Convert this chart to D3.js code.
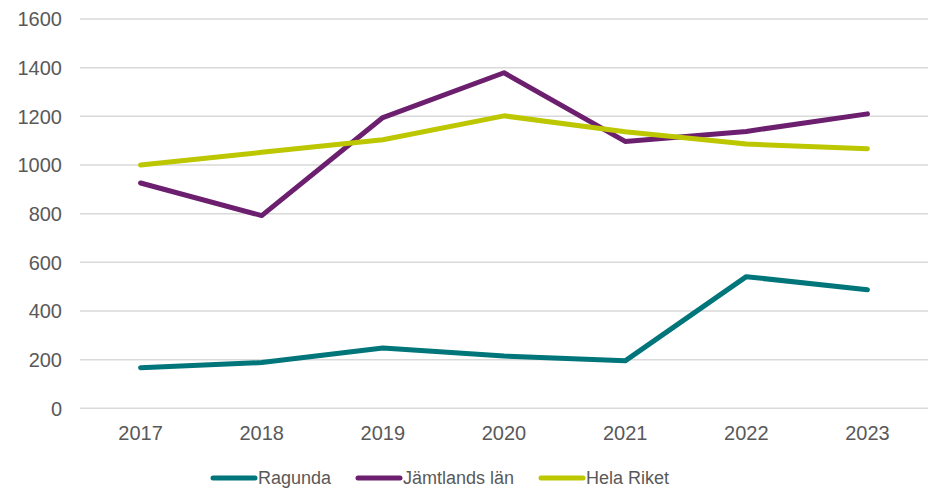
<!DOCTYPE html>
<html>
<head>
<meta charset="utf-8">
<script src="https://cdn.jsdelivr.net/npm/d3@7"></script>
<style>
  body { margin: 0; background: #fff; }
  text { font-family: "Liberation Sans", Arial, sans-serif; fill: #595959; }
</style>
</head>
<body>
<div id="chart"></div>
<script>
// data
var years = ["2017", "2018", "2019", "2020", "2021", "2022", "2023"];
var ragunda = [167, 188, 248, 215, 195, 541, 487];
var jamtland = [926, 792, 1195, 1379, 1097, 1138, 1210];
var helaRiket = [1000, 1052, 1104, 1202, 1137, 1086, 1067];
var yTicks = [0, 200, 400, 600, 800, 1000, 1200, 1400, 1600];

var series = [
    { name: "Ragunda", values: ragunda, color: "#00757a" },
    { name: "Jämtlands län", values: jamtland, color: "#6c1f6f" },
    { name: "Hela Riket", values: helaRiket, color: "#bcc700" }
];

var width = 932, height = 492;
var margin = { top: 19, right: 4, bottom: 84, left: 80 };

var svg = d3.select("#chart").append("svg")
    .attr("width", width)
    .attr("height", height);

var x = d3.scalePoint()
    .domain(years)
    .range([margin.left, width - margin.right])
    .padding(0.5);

var y = d3.scaleLinear()
    .domain([0, 1600])
    .range([height - margin.bottom + 0.3, margin.top]);

// gridlines
svg.append("g")
    .selectAll("line")
    .data(yTicks)
    .enter().append("line")
    .attr("x1", margin.left)
    .attr("x2", width - margin.right)
    .attr("y1", function(d) { return y(d); })
    .attr("y2", function(d) { return y(d); })
    .attr("stroke", "#d9d9d9")
    .attr("stroke-width", 1.5);

// y labels
svg.append("g")
    .selectAll("text")
    .data(yTicks)
    .enter().append("text")
    .attr("x", 62)
    .attr("y", function(d) { return y(d); })
    .attr("dy", "0.36em")
    .attr("text-anchor", "end")
    .style("font-size", "20px")
    .text(function(d) { return d; });

// x labels
svg.append("g")
    .selectAll("text")
    .data(years)
    .enter().append("text")
    .attr("x", function(d) { return x(d); })
    .attr("y", 439.5)
    .attr("text-anchor", "middle")
    .style("font-size", "20px")
    .text(function(d) { return d; });

var line = d3.line()
    .x(function(d, i) { return x(years[i]); })
    .y(function(d) { return y(d); });

svg.append("g")
    .selectAll("path")
    .data(series)
    .enter().append("path")
    .attr("d", function(d) { return line(d.values); })
    .attr("fill", "none")
    .attr("stroke", function(d) { return d.color; })
    .attr("stroke-width", 5)
    .attr("stroke-linecap", "round")
    .attr("stroke-linejoin", "round");

// legend
var legendX = [213, 358, 541];
var lg = svg.append("g")
    .selectAll("g")
    .data(series)
    .enter().append("g")
    .attr("transform", function(d, i) { return "translate(" + legendX[i] + ",478)"; });

lg.append("line")
    .attr("x1", 0)
    .attr("x2", 42)
    .attr("stroke", function(d) { return d.color; })
    .attr("stroke-width", 5)
    .attr("stroke-linecap", "round");

lg.append("text")
    .attr("x", 45)
    .attr("dy", "0.36em")
    .style("font-size", "18px")
    .text(function(d) { return d.name; });
</script>
</body>
</html>
